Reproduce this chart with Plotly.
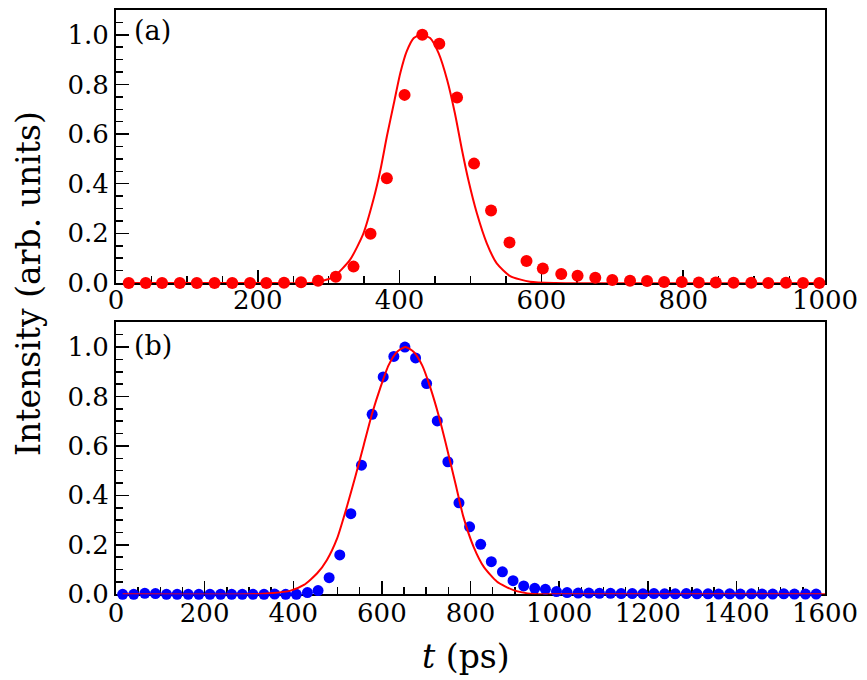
import plotly.graph_objects as go

# ---------------- data: panel (a) ----------------
t_a = [18, 42, 65, 90, 114, 139, 164, 189, 212, 237, 261, 285, 310, 335, 359, 382,
       407, 432, 456, 481, 505, 529, 555, 579, 602, 628, 651, 676, 700, 725, 749,
       773, 798, 822, 846, 871, 896, 920, 945, 969, 992]
int_a = [0.0, 0.0, 0.0, 0.0, 0.0, 0.0, 0.0, 0.0, 0.0, 0.001, 0.003, 0.009, 0.025,
         0.066, 0.198, 0.422, 0.758, 1.0, 0.964, 0.747, 0.481, 0.292, 0.163, 0.089,
         0.058, 0.036, 0.029, 0.021, 0.012, 0.009, 0.008, 0.004, 0.004, 0.002,
         0.002, 0.001, 0.001, 0.0, 0.001, 0.0, 0.0]

fit_t_a = [18, 200, 274, 293, 307, 330, 349, 363, 373, 382, 392, 401, 410, 420, 429,
           443, 455, 467, 478, 488, 497, 509, 523, 537, 556, 584, 620, 1000]
fit_a = [0.0, 0.0, 0.0, 0.01, 0.025, 0.093, 0.20, 0.335, 0.456, 0.59, 0.725, 0.846,
         0.933, 0.987, 1.0, 0.987, 0.926, 0.819, 0.684, 0.536, 0.415, 0.281, 0.16,
         0.079, 0.028, 0.005, 0.0, 0.0]

# ---------------- data: panel (b) ----------------
t_b = [15, 40, 65, 89, 114, 138, 163, 187, 212, 236, 261, 285, 309, 334, 358, 383,
       407, 432, 456, 481, 505, 530, 554, 578, 603, 627, 652, 676, 701, 725, 749,
       774, 798, 823, 847, 872, 896, 920, 945, 969, 994, 1018, 1043, 1067, 1091,
       1116, 1140, 1165, 1189, 1214, 1238, 1262, 1287, 1311, 1336, 1360, 1385,
       1409, 1434, 1458, 1482, 1507, 1531, 1556, 1580]
int_b = [0.0, 0.0, 0.004, 0.003, 0.0, 0.0, 0.0, 0.0, 0.0, 0.0, 0.0, 0.0, 0.0, 0.0,
         0.001, 0.0, 0.0, 0.007, 0.015, 0.067, 0.159, 0.326, 0.522, 0.728, 0.879,
         0.962, 1.0, 0.956, 0.852, 0.701, 0.536, 0.370, 0.273, 0.202, 0.132, 0.091,
         0.055, 0.034, 0.024, 0.020, 0.011, 0.007, 0.005, 0.005, 0.004, 0.004,
         0.003, 0.003, 0.002, 0.003, 0.002, 0.002, 0.003, 0.002, 0.002, 0.001,
         0.002, 0.001, 0.002, 0.001, 0.001, 0.002, 0.001, 0.001, 0.001]

fit_t_b = [15, 300, 348, 394, 424, 454, 476, 499, 521, 540, 559, 578, 597, 615, 634,
           653, 672, 691, 709, 728, 747, 766, 784, 807, 830, 860, 897, 942, 1000, 1600]
fit_b = [0.0, 0.0, 0.004, 0.015, 0.038, 0.085, 0.139, 0.226, 0.354, 0.475, 0.603,
         0.731, 0.838, 0.926, 0.98, 1.0, 0.98, 0.926, 0.838, 0.724, 0.59, 0.448,
         0.313, 0.192, 0.111, 0.051, 0.017, 0.001, 0.0, 0.0]

x_ticks_a = [0, 200, 400, 600, 800, 1000]
x_ticks_b = [0, 200, 400, 600, 800, 1000, 1200, 1400, 1600]
y_ticks = [0.0, 0.2, 0.4, 0.6, 0.8, 1.0]

RED = "#ff0000"
BLUE = "#0000ff"
FONT = "DejaVu Serif"

fig = go.Figure()
fig.add_trace(go.Scatter(x=t_a, y=int_a, mode="markers", xaxis="x", yaxis="y",
                         marker=dict(color=RED, size=12), cliponaxis=False,
                         showlegend=False))
fig.add_trace(go.Scatter(x=fit_t_a, y=fit_a, mode="lines", xaxis="x", yaxis="y",
                         line=dict(color=RED, width=2, shape="spline", smoothing=0.6),
                         cliponaxis=False, showlegend=False))
fig.add_trace(go.Scatter(x=t_b, y=int_b, mode="markers", xaxis="x2", yaxis="y2",
                         marker=dict(color=BLUE, size=11), cliponaxis=False,
                         showlegend=False))
fig.add_trace(go.Scatter(x=fit_t_b, y=fit_b, mode="lines", xaxis="x2", yaxis="y2",
                         line=dict(color=RED, width=2, shape="spline", smoothing=0.6),
                         cliponaxis=False, showlegend=False))

common = dict(showline=True, linecolor="black", linewidth=2, mirror=True,
              ticks="inside", ticklen=13, tickwidth=1.5, tickcolor="black",
              showgrid=False, zeroline=False, layer="below traces", automargin=False,
              tickfont=dict(family=FONT, size=26, color="black"))

xminor = dict(ticks="inside", ticklen=7, tickwidth=1.5, tickcolor="black",
              dtick=50, tick0=0, showgrid=False)
yminor = dict(ticks="inside", ticklen=7, tickwidth=1.5, tickcolor="black",
              dtick=0.05, tick0=0, showgrid=False)

xdom = [116 / 867, 825 / 867]
fig.update_layout(
    width=867, height=680,
    margin=dict(l=0, r=0, t=0, b=0),
    paper_bgcolor="white", plot_bgcolor="white",
    xaxis=dict(domain=xdom, range=[0, 1000], tickvals=x_ticks_a, anchor="y",
               ticklabelstandoff=-7, minor=xminor, **common),
    yaxis=dict(domain=[1 - 283 / 680, 1 - 10 / 680], range=[0, 1.1], tickvals=y_ticks,
               tickformat=".1f", anchor="x", minor=yminor, **common),
    xaxis2=dict(domain=xdom, range=[0, 1600], tickvals=x_ticks_b, anchor="y2",
                ticklabelstandoff=-6, minor=xminor, **common),
    yaxis2=dict(domain=[1 - 594.3 / 680, 1 - 322.3 / 680], range=[0, 1.1],
                tickvals=y_ticks, tickformat=".1f", anchor="x2", minor=yminor, **common),
    annotations=[
        dict(text="(a)", x=132 / 867, y=1 - 31 / 680, xref="paper", yref="paper",
             xanchor="left", yanchor="middle", showarrow=False,
             font=dict(family=FONT, size=27, color="black")),
        dict(text="(b)", x=132 / 867, y=1 - 345 / 680, xref="paper", yref="paper",
             xanchor="left", yanchor="middle", showarrow=False,
             font=dict(family=FONT, size=27, color="black")),
        dict(text="Intensity (arb. units)", x=28 / 867, y=1 - 284 / 680,
             xref="paper", yref="paper", xanchor="center", yanchor="middle",
             textangle=-90, showarrow=False,
             font=dict(family=FONT, size=33, color="black")),
        dict(text="<i>t</i> (ps)", x=466 / 867, y=1 - 656 / 680,
             xref="paper", yref="paper", xanchor="center", yanchor="middle",
             showarrow=False, font=dict(family=FONT, size=33, color="black")),
    ],
)

fig.write_html("out.html",
               config={"displayModeBar": False, "staticPlot": True},
               post_script="document.body.style.margin='0';document.body.style.padding='0';")
